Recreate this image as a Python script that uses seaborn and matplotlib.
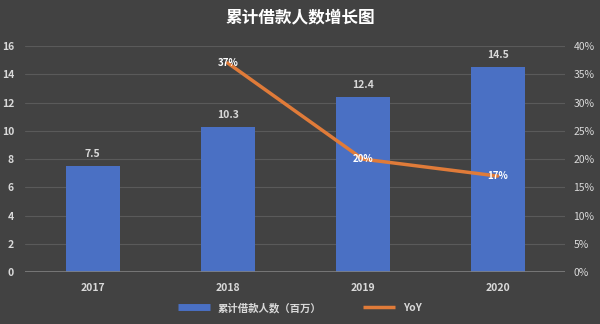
import matplotlib
matplotlib.use("Agg")
import matplotlib.pyplot as plt
import seaborn as sns
import pandas as pd
import numpy as np
from matplotlib.ticker import FuncFormatter, MultipleLocator
from matplotlib.lines import Line2D

years = ["2017", "2018", "2019", "2020"]
borrowers = [7.5, 10.3, 12.4, 14.5]
yoy_years = ["2018", "2019", "2020"]
yoy = [0.37, 0.20, 0.17]
title = "累计借款人数增长图"
bar_label = "累计借款人数（百万）"
line_label = "YoY"

sns.set_theme(style="dark")
plt.rcParams['font.family'] = ['Noto Sans CJK SC', 'DejaVu Sans']

bg = "#424242"
txt = "#d9d9d9"
bar_color = "#4a70c4"
line_color = "#e07b39"

fig = plt.figure(figsize=(6, 3.24), dpi=100, facecolor=bg)
ax = fig.add_axes([0.042, 0.160, 0.900, 0.698])
ax.set_facecolor(bg)

df = pd.DataFrame({"year": years, "val": borrowers})
sns.barplot(data=df, x="year", y="val", color=bar_color, width=0.4, ax=ax,
            saturation=1, zorder=3, edgecolor="none", linewidth=0)
ax.set_ylim(0, 16)
ax.yaxis.set_major_locator(MultipleLocator(2))
ax.grid(axis="y", color="#5a5a5a", linewidth=0.8, zorder=0)
ax.grid(axis="x", visible=False)
ax.axhline(0, color="#808080", linewidth=1.2, zorder=4)
for s in ax.spines.values():
    s.set_visible(False)
ax.set_xlabel("")
ax.set_ylabel("")
ax.tick_params(axis="both", colors=txt, labelsize=7.5, length=0, pad=8)
for lbl in ax.get_xticklabels() + ax.get_yticklabels():
    lbl.set_fontweight("bold")
    lbl.set_color(txt)

for i, v in enumerate(borrowers):
    ax.text(i, v + 0.5, f"{v}", ha="center", va="bottom", color=txt,
            fontsize=7.5, fontweight="bold", zorder=5)

ax2 = ax.twinx()
xpos = [years.index(y) for y in yoy_years]
ldf = pd.DataFrame({"x": xpos, "yoy": yoy})
sns.lineplot(data=ldf, x="x", y="yoy", color=line_color, linewidth=2.5, ax=ax2,
             zorder=6)
ax2.set_ylim(0, 0.40)
ax2.yaxis.set_major_locator(MultipleLocator(0.05))
ax2.yaxis.set_major_formatter(FuncFormatter(lambda v, p: f"{v*100:.0f}%"))
ax2.grid(False)
for s in ax2.spines.values():
    s.set_visible(False)
ax2.set_xlabel("")
ax2.set_ylabel("")
ax2.tick_params(axis="y", colors=txt, labelsize=7.5, length=0, pad=6)
for lbl in ax2.get_yticklabels():
    lbl.set_color(txt)
for x, v in zip(xpos, yoy):
    ax2.text(x, v, f"{v*100:.0f}%", ha="center", va="center", color="white",
             fontsize=7, fontweight="bold", zorder=7)
ax.set_xlim(-0.5, 3.5)

fig.text(0.5, 0.945, title, ha="center", va="center", color="white",
         fontsize=12, fontweight="bold")

handles = [Line2D([0], [0], color=bar_color, linewidth=5, solid_capstyle="butt",
                  label=bar_label),
           Line2D([0], [0], color=line_color, linewidth=2.5, solid_capstyle="butt",
                  label=line_label)]
leg = fig.legend(handles=handles, loc="center", bbox_to_anchor=(0.5, 0.05),
                 ncol=2, frameon=False, fontsize=7.5, handlelength=3,
                 columnspacing=4)
for t in leg.get_texts():
    t.set_color(txt)
    t.set_fontweight("bold")

fig.savefig("out.png", dpi=100, facecolor=bg)
